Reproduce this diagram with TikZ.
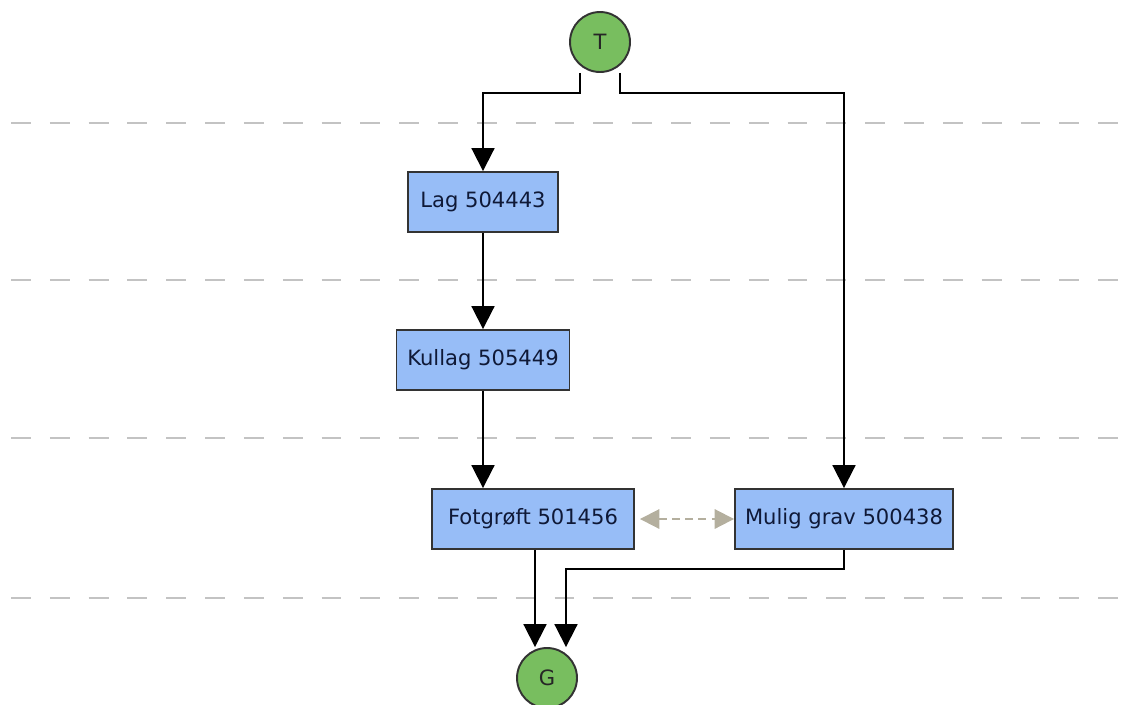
\documentclass[tikz,border=0pt]{standalone}
\usepackage{fontspec}
\setmainfont{DejaVu Sans}
\usepackage{tikz}
\definecolor{kastenblau}{RGB}{151,189,247}
\definecolor{kreisgruen}{RGB}{120,190,95}
\definecolor{textblau}{RGB}{15,25,55}
\definecolor{strichgrau}{RGB}{195,195,195}
\definecolor{pfeilbeige}{RGB}{180,175,158}
\usetikzlibrary{arrows.meta}

\begin{document}
\begin{tikzpicture}[x=0.02cm, y=-0.02cm,
				kasten/.style={draw=black!80, line width=1.1pt, fill=kastenblau, text=textblau, minimum height=1.2cm, inner sep=0pt},
				kreis/.style={circle, draw=black!80, line width=1.1pt, fill=kreisgruen, text=black!85, minimum size=1.2cm, inner sep=0pt},
				>={Triangle[width=13pt,length=13pt]},   %Voreinstellung für Pfeilspitzen
				font=\fontsize{12}{14}\selectfont]
				\useasboundingbox (0,0) rectangle (1133,704);
				%Trennlinien zeichnen
				\foreach \y in {123,280,438,598} \draw[strichgrau, line width=1.2pt, dash pattern=on 11.3pt off 10.8pt] (11,\y) -- (1133,\y);
				% Knoten
				\node[kreis] (T) at (600,42) {T};
				\node[kasten, minimum width=3cm] (lag) at (483,202) {Lag 504443};
				\node[kasten, minimum width=3.46cm] (kullag) at (483,360) {Kullag 505449};
				\node[kasten, minimum width=4.04cm] (fotgroeft) at (533,519) {Fotgrøft 501456};
				\node[kasten, minimum width=4.36cm] (grav) at (844,519) {Mulig grav 500438};
				\node[kreis] (G) at (547,678) {G};
				% Pfeile zeichnen
				\draw[->, line width=1.1pt] ([xshift=-0.4cm]T.south) -- ++(0,20) -| (lag.north);
				\draw[->, line width=1.1pt] ([xshift=0.4cm]T.south) -- ++(0,20) -| (grav.north);
				\draw[->, line width=1.1pt] (lag) -- (kullag);
				\draw[->, line width=1.1pt] (kullag.south) -- (kullag.south |- fotgroeft.north);
				\draw[->, line width=1.1pt] ([xshift=-0.24cm]G.north |- fotgroeft.south) -- ([xshift=-0.24cm]G.north);
				\draw[->, line width=1.1pt] (grav.south) -- ++(0,19) -| ([xshift=0.38cm]G.north);
				% Beziehung
				\draw[<->, pfeilbeige, line width=1.1pt, dash pattern=on 4.5pt off 3pt, shorten <=0.1cm, >={Triangle[width=11pt,length=11pt]}] (fotgroeft.east) -- (grav.west);
			\end{tikzpicture}
\end{document}
